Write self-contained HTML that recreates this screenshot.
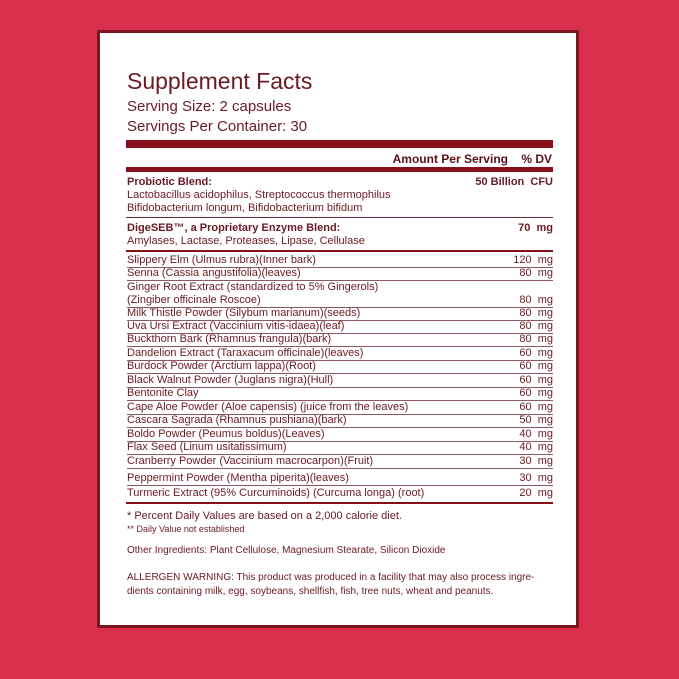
<!DOCTYPE html>
<html><head><style>
body{margin:0;width:679px;height:679px;background:#d8304c;position:relative;overflow:hidden;font-family:"Liberation Sans",sans-serif;color:#6a1a22}
.card{position:absolute;left:97px;top:30px;width:482px;height:598px;background:#fff;border:3px solid #7d1520;border-radius:2px;box-sizing:border-box}
.t{position:absolute;left:127px;white-space:nowrap}
.r{position:absolute;left:127px;width:426px;font-size:11px;line-height:13px;white-space:nowrap}
.r span{position:absolute;right:0;top:0}
.u{border-bottom:1px solid #8a5a60}
.bar{position:absolute;left:126px;width:427px;background:#8a0f1c}
</style></head><body>
<div class="card"></div>
<div class="t" style="top:68px;font-size:23px;color:#6a1a22">Supplement Facts</div>
<div class="t" style="top:98px;font-size:15px">Serving Size: 2 capsules</div>
<div class="t" style="top:118px;font-size:15px">Servings Per Container: 30</div>
<div class="bar" style="top:140px;height:8px"></div>
<div class="t" style="top:152px;left:auto;right:127px;font-size:12px;font-weight:bold;color:#5a1018">Amount Per Serving&nbsp;&nbsp;&nbsp;&nbsp;% DV</div>
<div class="bar" style="top:167px;height:5px"></div>
<div class="r" style="top:176px;font-weight:bold">Probiotic Blend:<span>50 Billion&nbsp; CFU</span></div>
<div class="r" style="top:189px">Lactobacillus acidophilus, Streptococcus thermophilus</div>
<div class="r" style="top:202px">Bifidobacterium longum, Bifidobacterium bifidum</div>
<div class="bar" style="top:217px;height:1px;background:#6a2a30"></div>
<div class="r" style="top:222px;font-weight:bold">DigeSEB™, a Proprietary Enzyme Blend:<span>70&nbsp; mg</span></div>
<div class="r" style="top:235px">Amylases, Lactase, Proteases, Lipase, Cellulase</div>
<div class="bar" style="top:250px;height:2px"></div>
<div class="r u" style="top:254px">Slippery Elm (Ulmus rubra)(Inner bark)<span>120&nbsp; mg</span></div>
<div class="r u" style="top:267px">Senna (Cassia angustifolia)(leaves)<span>80&nbsp; mg</span></div>
<div class="r" style="top:281px">Ginger Root Extract (standardized to 5% Gingerols)</div>
<div class="r u" style="top:294px">(Zingiber officinale Roscoe)<span>80&nbsp; mg</span></div>
<div class="r u" style="top:307px">Milk Thistle Powder (Silybum marianum)(seeds)<span>80&nbsp; mg</span></div>
<div class="r u" style="top:320px">Uva Ursi Extract (Vaccinium vitis-idaea)(leaf)<span>80&nbsp; mg</span></div>
<div class="r u" style="top:333px">Buckthorn Bark (Rhamnus frangula)(bark)<span>80&nbsp; mg</span></div>
<div class="r u" style="top:347px">Dandelion Extract (Taraxacum officinale)(leaves)<span>60&nbsp; mg</span></div>
<div class="r u" style="top:360px">Burdock Powder (Arctium lappa)(Root)<span>60&nbsp; mg</span></div>
<div class="r u" style="top:374px">Black Walnut Powder (Juglans nigra)(Hull)<span>60&nbsp; mg</span></div>
<div class="r u" style="top:387px">Bentonite Clay<span>60&nbsp; mg</span></div>
<div class="r u" style="top:401px">Cape Aloe Powder (Aloe capensis) (juice from the leaves)<span>60&nbsp; mg</span></div>
<div class="r u" style="top:414px">Cascara Sagrada (Rhamnus pushiana)(bark)<span>50&nbsp; mg</span></div>
<div class="r u" style="top:428px">Boldo Powder (Peumus boldus)(Leaves)<span>40&nbsp; mg</span></div>
<div class="r u" style="top:441px">Flax Seed (Linum usitatissimum)<span>40&nbsp; mg</span></div>
<div class="r u" style="top:455px">Cranberry Powder (Vaccinium macrocarpon)(Fruit)<span>30&nbsp; mg</span></div>
<div class="r u" style="top:472px">Peppermint Powder (Mentha piperita)(leaves)<span>30&nbsp; mg</span></div>
<div class="r" style="top:487px">Turmeric Extract (95% Curcuminoids) (Curcuma longa) (root)<span>20&nbsp; mg</span></div>
<div class="bar" style="top:502px;height:2px"></div>
<div class="r" style="top:510px">* Percent Daily Values are based on a 2,000 calorie diet.</div>
<div class="r" style="top:523px;font-size:9px">** Daily Value not established</div>
<div class="r" style="top:544px;font-size:10px">Other Ingredients: Plant Cellulose, Magnesium Stearate, Silicon Dioxide</div>
<div class="r" style="top:571px;font-size:10px">ALLERGEN WARNING: This product was produced in a facility that may also process ingre-</div>
<div class="r" style="top:585px;font-size:10px">dients containing milk, egg, soybeans, shellfish, fish, tree nuts, wheat and peanuts.</div>
</body></html>
